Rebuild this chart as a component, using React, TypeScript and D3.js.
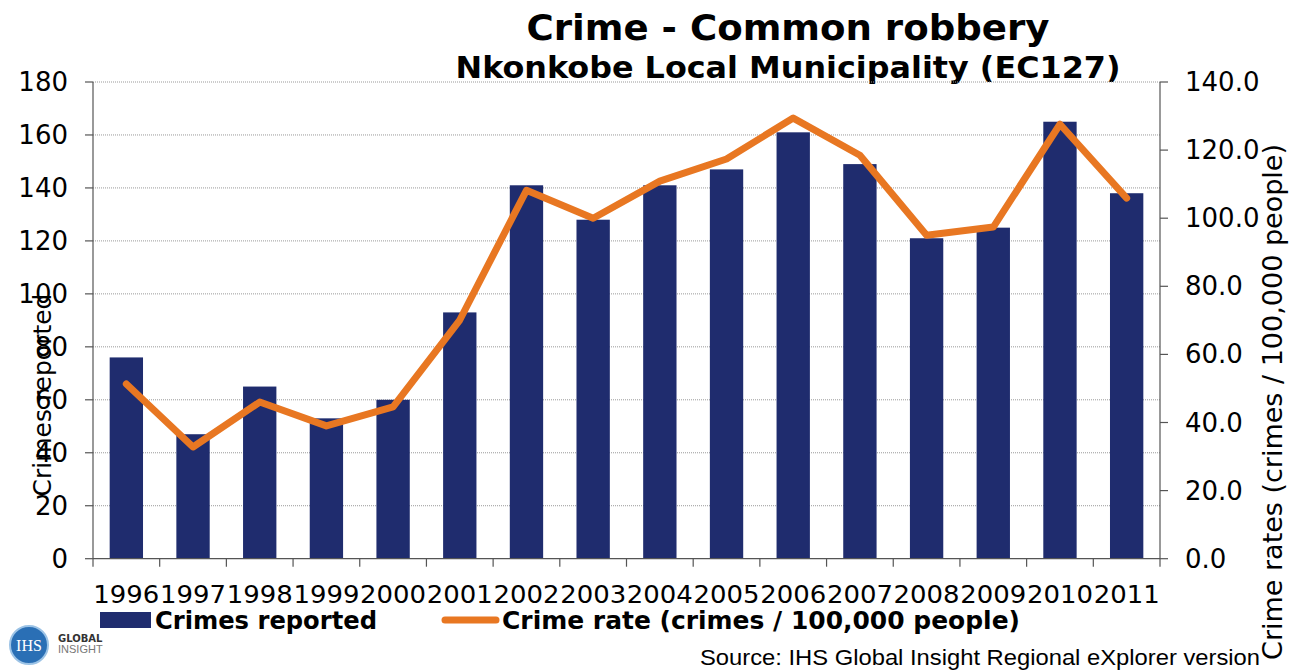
import React from "react";
import * as d3 from "d3";

const years = ["1996","1997","1998","1999","2000","2001","2002","2003","2004","2005","2006","2007","2008","2009","2010","2011"];
const crimesReported = [76, 47, 65, 53, 60, 93, 141, 128, 141, 147, 161, 149, 121, 125, 165, 138];
const crimeRate = [51.3, 32.8, 46.0, 39.0, 44.6, 70.1, 108.2, 100.0, 110.9, 117.4, 129.4, 118.5, 95.0, 97.4, 127.6, 105.9];
const leftTicks = [0, 20, 40, 60, 80, 100, 120, 140, 160, 180];
const rightTicks = [0, 20, 40, 60, 80, 100, 120, 140];

const W = 1306, H = 672;
const L = 93, R = 1160, T = 82, B = 558.7;
const NAVY = "#1F2C6E";
const ORANGE = "#E87722";
const FONT = "'DejaVu Sans', Verdana, sans-serif";

export default function App() {
  const x = d3.scaleBand<string>().domain(years).range([L, R]).paddingInner(0.5).paddingOuter(0.25);
  const yL = d3.scaleLinear().domain([0, 180]).range([B, T]);
  const yR = d3.scaleLinear().domain([0, 140]).range([B, T]);
  const step = x.step();
  const line = d3.line<number>()
    .x((_, i) => (x(years[i]) as number) + x.bandwidth() / 2)
    .y((d) => yR(d));

  return (
    <svg width={W} height={H} style={{ position: "absolute", left: 0, top: 0, background: "#fff" }}>
      <rect x={0} y={0} width={W} height={H} fill="#fff" />
      {/* Title */}
      <text x={788} y={40} textAnchor="middle" fontFamily={FONT} fontWeight="bold" fontSize={36} textLength={523} lengthAdjust="spacingAndGlyphs">Crime - Common robbery</text>
      <text x={788} y={78} textAnchor="middle" fontFamily={FONT} fontWeight="bold" fontSize={30} textLength={665} lengthAdjust="spacingAndGlyphs">Nkonkobe Local Municipality (EC127)</text>

      {/* Gridlines */}
      {leftTicks.filter((t) => t > 0).map((t) => (
        <line key={"g" + t} x1={L} x2={R} y1={yL(t)} y2={yL(t)} stroke="#999" strokeWidth={1} strokeDasharray="1,1" />
      ))}

      {/* Bars */}
      {crimesReported.map((v, i) => (
        <rect key={"b" + i} x={x(years[i])} y={yL(v)} width={x.bandwidth()} height={B - yL(v)} fill={NAVY} />
      ))}

      {/* Line */}
      <path d={line(crimeRate) || ""} fill="none" stroke={ORANGE} strokeWidth={7} strokeLinejoin="round" strokeLinecap="round" />

      {/* Axes */}
      <line x1={L} x2={L} y1={T} y2={B} stroke="#555" strokeWidth={1.2} />
      <line x1={R} x2={R} y1={T} y2={B} stroke="#555" strokeWidth={1.2} />
      <line x1={L} x2={R} y1={B} y2={B} stroke="#555" strokeWidth={1.2} />
      {leftTicks.map((t) => (
        <g key={"l" + t}>
          <line x1={L - 8} x2={L} y1={yL(t)} y2={yL(t)} stroke="#555" strokeWidth={1.2} />
          <text x={68} y={yL(t) + 9} textAnchor="end" fontFamily={FONT} fontSize={26} fill="#000">{t}</text>
        </g>
      ))}
      {rightTicks.map((t) => (
        <g key={"r" + t}>
          <line x1={R} x2={R + 8} y1={yR(t)} y2={yR(t)} stroke="#555" strokeWidth={1.2} />
          <text x={1185} y={yR(t) + 9} textAnchor="start" fontFamily={FONT} fontSize={26} fill="#000">{t.toFixed(1)}</text>
        </g>
      ))}
      {years.map((yr, i) => (
        <line key={"xt" + i} x1={L + i * step} x2={L + i * step} y1={B} y2={B + 8} stroke="#555" strokeWidth={1.2} />
      ))}
      <line x1={R} x2={R} y1={B} y2={B + 8} stroke="#555" strokeWidth={1.2} />
      {years.map((yr) => (
        <text key={"xl" + yr} x={(x(yr) as number) + x.bandwidth() / 2} y={603} textAnchor="middle" fontFamily={FONT} fontSize={25} textLength={66} lengthAdjust="spacingAndGlyphs">{yr}</text>
      ))}

      {/* Axis titles */}
      <text transform="translate(51,395) rotate(-90)" textAnchor="middle" fontFamily={FONT} fontSize={25}>Crimes reported</text>
      <text transform="translate(1282,402) rotate(-90)" textAnchor="middle" fontFamily={FONT} fontSize={27}>Crime rates (crimes / 100,000 people)</text>

      {/* Legend */}
      <rect x={100} y={612} width={51} height={16} fill={NAVY} />
      <text x={155} y={629} fontFamily={FONT} fontWeight="bold" fontSize={24} textLength={222} lengthAdjust="spacingAndGlyphs">Crimes reported</text>
      <line x1={445} x2={496} y1={620} y2={620} stroke={ORANGE} strokeWidth={7} strokeLinecap="round" />
      <text x={502} y={629} fontFamily={FONT} fontWeight="bold" fontSize={24} textLength={518} lengthAdjust="spacingAndGlyphs">Crime rate (crimes / 100,000 people)</text>

      {/* Source */}
      <text x={700} y={665} fontFamily="'Liberation Sans', Arial, sans-serif" fontSize={22} fill="#000" textLength={560} lengthAdjust="spacingAndGlyphs">Source: IHS Global Insight Regional eXplorer version</text>

      {/* Logo */}
      <circle cx={29} cy={645} r={19} fill="#2a6fb5" />
      <circle cx={29} cy={645} r={19} fill="none" stroke="#9cc3e6" strokeWidth={2} />
      <text x={29} y={651} textAnchor="middle" fontFamily="'Liberation Serif', serif" fontSize={16} fill="#fff">IHS</text>
      <text x={58} y={642} fontFamily={FONT} fontWeight="bold" fontSize={10} fill="#333">GLOBAL</text>
      <text x={58} y={653} fontFamily="'Liberation Sans', sans-serif" fontSize={11} fill="#777">INSIGHT</text>
    </svg>
  );
}
